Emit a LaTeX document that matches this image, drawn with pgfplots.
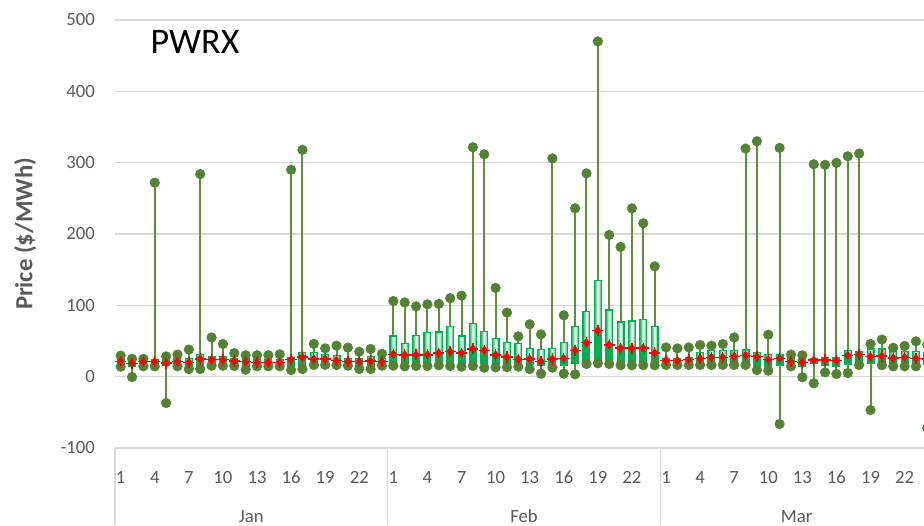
\documentclass[border=0pt]{standalone}
\usepackage{pgfplots}
\pgfplotsset{compat=1.18}
\usepackage{pgfplotstable}
\usepgfplotslibrary{statistics}
\usepackage{fontspec}
\setmainfont{Carlito}
\definecolor{gridc}{HTML}{D9D9D9}
\definecolor{txt}{HTML}{595959}
\definecolor{dotg}{HTML}{548235}
\definecolor{whg}{HTML}{5E8F3E}
\definecolor{boxg}{HTML}{00B050}

\pgfplotstableread{
x min q1 med q3 max mean
0 14 17 20 24 29.5 21
1 -0.5 15 18 22 25 18.7
2 14.5 17 20 24 25 21
3 14.5 17 20 24 272 21
4 -37 16 19 23 28.5 19
5 14.5 17 20 25 31 21
6 10.7 14 19 26 38 20
7 10.7 14 22 31 284 24.8
8 15.4 17 22 28 55 23.8
9 15.4 17 22 28.5 45.8 24
10 15 17 21 26 33 22
11 9.8 15 20 25 30 21
12 14.5 16 19 24 30 20
13 14.5 16 19 24 30 20
14 14.5 16 19 24 31.3 20
15 9.3 13 22 27 290 24
16 10.7 12 25 34 318 27.5
17 16.3 18 23 34 46 24.8
18 16.5 18 23 31 39.7 24.8
19 16.3 18 21 29.5 43.5 22.4
20 15.4 17 20 26 40.7 21.5
21 10.7 15 20 25 35 21
22 10.7 15 21 28 38.8 22
23 15.4 17 20 25 32 21
24 15.4 19 29 57 106 31.5
25 14.5 18 28 46.5 104 30.4
26 15 19 28 58 98.6 30.6
27 15 19 28 61.5 101.4 30.6
28 16 20 31 62.5 102 33
29 15 20 33 70 110 35
30 14 19 31 57 113.6 33
31 15 20 37 74 321.6 39
32 12.6 18 35 63 311.8 37
33 13 18 28 53 124.4 30.4
34 13.3 18 26 47.5 89.8 27.5
35 14 17 23 46 56.5 24.5
36 10.7 17 23 40 73.4 24.7
37 4.2 16 20 38 59.3 21.5
38 12.6 17 23 40 306 24.7
39 4.2 16 24 47.5 86 25.6
40 3.3 18 35 70 236 37
41 17.8 20 45 91 285 47.5
42 18.7 21 62 135 470 64.5
43 17.8 20 43 93.5 198.7 44.5
44 16 19 38 76.5 181.9 40
45 16 19 38 78 236 40
46 16 19 38 80 215 40
47 16 19 31 70 154.7 33.3
48 16.4 18 21 26 41 22.9
49 16.4 18 21 26 39.7 22.4
50 16.4 18 22 27 41 23.8
51 16.4 18 24 34 44.4 25.7
52 16.4 19 25 36.5 43.5 27
53 16.4 19 25 36.5 45.8 27
54 16.4 19 26 36.5 55 28.5
55 16.4 19 27 37.4 319.8 29.9
56 9.3 14 25 34 330 28
57 8.4 14 22 30.9 58.9 23.8
58 -66.4 16 23 30.9 320.7 25.7
59 14.5 17 20 25 30.9 21
60 -0.9 15 19 24 29.9 20
61 -9.3 18 22 26 297.8 23.3
62 6 16 22 27 297 23.3
63 3.7 15 21 27 299.7 22.4
64 5.1 17 27 36.5 309 29.9
65 16.4 18 28 35.5 312.8 30.9
66 -46.8 18 25 38.8 45.8 28
67 16 18 26 38.8 52 29
68 14.5 17 24 35 40.5 26
69 14.5 17 24 35 43 27
70 14.5 17 23 35 49.5 25.5
71 -72 17 23 34 45 25
}\pricedata

\newcommand{\boxrow}[1]{%
  \pgfplotstablegetelem{#1}{min}\of\pricedata\let\vmin\pgfplotsretval
  \pgfplotstablegetelem{#1}{q1}\of\pricedata\let\vqa\pgfplotsretval
  \pgfplotstablegetelem{#1}{med}\of\pricedata\let\vmed\pgfplotsretval
  \pgfplotstablegetelem{#1}{q3}\of\pricedata\let\vqc\pgfplotsretval
  \pgfplotstablegetelem{#1}{max}\of\pricedata\let\vmax\pgfplotsretval
  \edef\doplot{\noexpand\addplot[boxplot prepared={lower whisker=\vmin, lower quartile=\vqa, median=\vmed, upper quartile=\vqc, upper whisker=\vmax, draw position=#1}] coordinates {};
    \noexpand\addplot[boxplot prepared={lower whisker=\vqa, lower quartile=\vqa, median=\vmed, upper quartile=\vmed, upper whisker=\vmed, draw position=#1},
      /pgfplots/boxplot/every box/.style={draw=boxg, line width=0.9pt, fill=boxg},
      /pgfplots/boxplot/every whisker/.style={draw=none}] coordinates {};}%
  \doplot
}

\begin{document}
\begin{tikzpicture}
\path[use as bounding box] (-86.25pt,-57.75pt) rectangle (606.75pt,336pt);
\clip (-86.25pt,-57.75pt) rectangle (606.75pt,336pt);
\begin{axis}[
  at={(0pt,0pt)}, anchor=south west,
  scale only axis, width=613.5pt, height=321pt,
  xmin=-0.5, xmax=71.5, ymin=-100, ymax=500,
  clip=false,
  axis line style={draw=none},
  major tick length=0pt,
  ytick={-100,0,100,200,300,400,500},
  yticklabels={-100,0,100,200,300,400,500},
  ymajorgrids, grid style={gridc, line width=1pt},
  xtick={0,3,...,69},
  xticklabels={1,4,7,10,13,16,19,22,1,4,7,10,13,16,19,22,1,4,7,10,13,16,19,22},
  tick label style={font=\fontsize{14}{16}\selectfont, text=txt},
  xticklabel style={anchor=base, yshift=-26.25pt, inner sep=0pt},
  yticklabel style={anchor=east, inner sep=0pt, xshift=-15pt},
  ylabel={Price (\$/MWh)},
  every axis y label/.style={at={(rel axis cs:0,0.5)}, xshift=-67.5pt, rotate=90, anchor=center, font=\bfseries\fontsize{18.5}{20}\selectfont, text=txt},
  boxplot/draw direction=y,
  boxplot/box extend=0.6,
  boxplot/whisker extend=0,
  boxplot/every box/.style={draw=boxg, line width=0.9pt, left color=boxg!90, right color=boxg!90, middle color=white},
  boxplot/every whisker/.style={draw=whg, line width=1.5pt},
  boxplot/every median/.style={draw=none},
]
\pgfplotsinvokeforeach{0,...,71}{\boxrow{#1}}
\addplot[only marks, mark=*, mark size=3.6pt, mark options={fill=dotg, draw=dotg}] table[x=x, y=min] {\pricedata};
\addplot[only marks, mark=*, mark size=3.6pt, mark options={fill=dotg, draw=dotg}] table[x=x, y=max] {\pricedata};
\addplot[only marks, mark=+, mark size=4.2pt, mark options={draw=red, line width=1pt}] table[x=x, y=mean] {\pricedata};
\addplot[only marks, mark=diamond*, mark size=3.2pt, mark options={fill=red, draw=red}] table[x=x, y=mean] {\pricedata};

\draw[gridc, line width=1pt] (axis cs:-0.5,-100) -- ++(0pt,-57.75pt);
\draw[gridc, line width=1pt] (axis cs:23.5,-100) -- ++(0pt,-57.75pt);
\draw[gridc, line width=1pt] (axis cs:47.5,-100) -- ++(0pt,-57.75pt);
\node[anchor=base, yshift=-55.5pt, font=\fontsize{14}{16}\selectfont, text=txt] at (axis cs:11.5,-100) {Jan};
\node[anchor=base, yshift=-55.5pt, font=\fontsize{14}{16}\selectfont, text=txt] at (axis cs:35.5,-100) {Feb};
\node[anchor=base, yshift=-55.5pt, font=\fontsize{14}{16}\selectfont, text=txt] at (axis cs:59.5,-100) {Mar};
\node[anchor=base, inner sep=0pt, font=\fontsize{27}{30}\selectfont] at (rel axis cs:0.0978,0.922) {PWRX};
\end{axis}
\end{tikzpicture}
\end{document}
